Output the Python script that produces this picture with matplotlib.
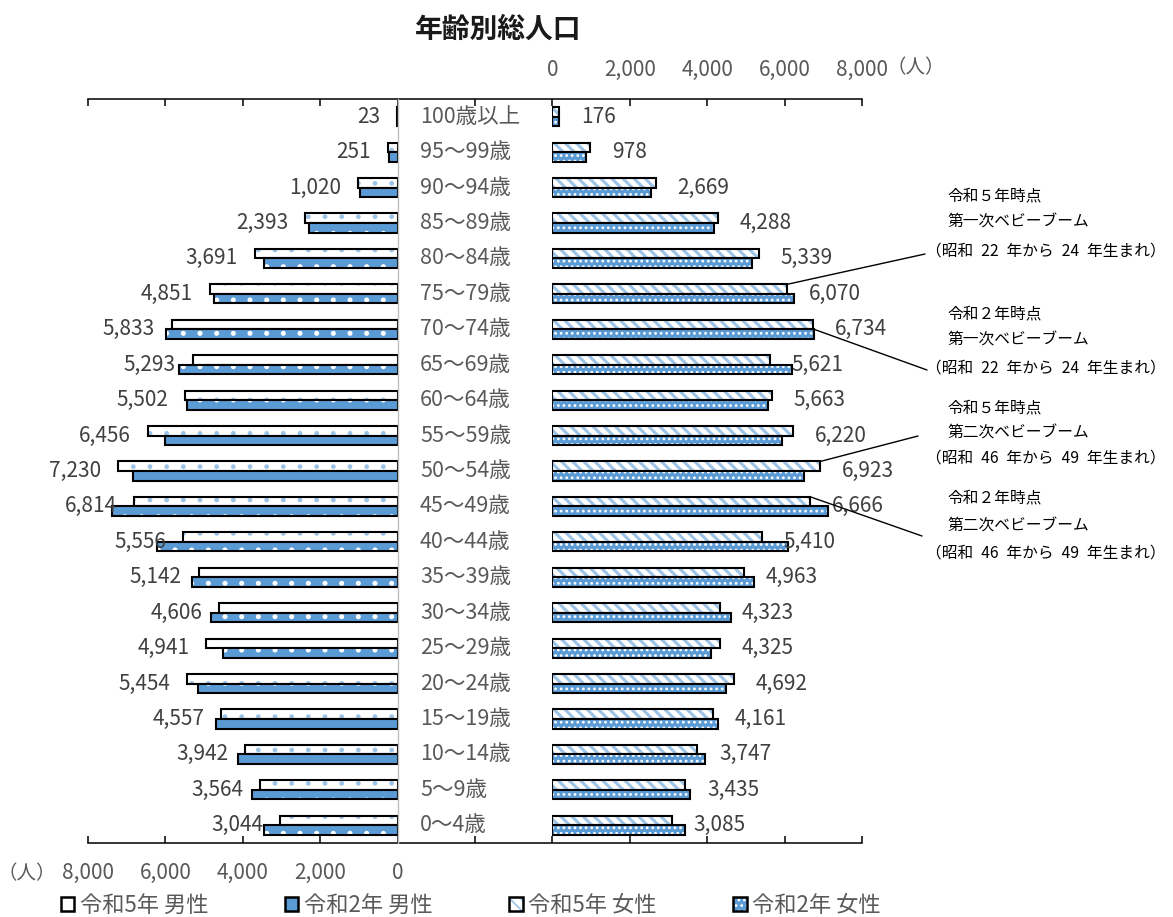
import numpy as np
import matplotlib.pyplot as plt
from matplotlib import transforms
from matplotlib.patches import Patch
from matplotlib.legend_handler import HandlerTuple

plt.rcParams['font.family'] = ['Noto Sans CJK JP', 'DejaVu Sans']
plt.rcParams['hatch.linewidth'] = 1.2

# ---- data -------------------------------------------------------------
ages = ['100歳以上', '95～99歳', '90～94歳', '85～89歳', '80～84歳', '75～79歳',
        '70～74歳', '65～69歳', '60～64歳', '55～59歳', '50～54歳', '45～49歳',
        '40～44歳', '35～39歳', '30～34歳', '25～29歳', '20～24歳', '15～19歳',
        '10～14歳', '5～9歳', '0～4歳']

male_r5 = [23, 251, 1020, 2393, 3691, 4851, 5833, 5293, 5502, 6456, 7230,
           6814, 5556, 5142, 4606, 4941, 5454, 4557, 3942, 3564, 3044]
male_r2 = [20, 210, 960, 2280, 3450, 4750, 5980, 5640, 5430, 6010, 6840,
           7380, 6210, 5300, 4810, 4520, 5170, 4690, 4130, 3760, 3460]
female_r5 = [176, 978, 2669, 4288, 5339, 6070, 6734, 5621, 5663, 6220, 6923,
             6666, 5410, 4963, 4323, 4325, 4692, 4161, 3747, 3435, 3085]
female_r2 = [165, 870, 2550, 4180, 5150, 6230, 6760, 6180, 5560, 5930, 6490,
             7120, 6090, 5210, 4610, 4110, 4480, 4290, 3940, 3550, 3420]

legend_labels = ['令和5年 男性', '令和2年 男性', '令和5年 女性', '令和2年 女性']
axis_ticks = [0, 2000, 4000, 6000, 8000]

BLUE = '#5B9BD5'
LIGHT = '#9DC3E6'
GREY_TXT = '#595959'
VAL_TXT = '#404040'

# ---- layout -----------------------------------------------------------
W, H = 1173, 917
fig = plt.figure(figsize=(W / 100, H / 100), dpi=100)


def box(x0, x1, y0, y1):
    return [x0 / W, 1 - y1 / H, (x1 - x0) / W, (y1 - y0) / H]


X0, X1 = 88, 862
TOP, BOT = 99, 843
k = (X1 - X0) / 20000.0

# outer frame with the long top/bottom rules and their tick marks
frame = fig.add_axes(box(X0, X1, TOP, BOT))
frame.set_xlim(-8000, 12000)
frame.set_ylim(0, 1)
frame.patch.set_visible(False)
for s in ['left', 'right']:
    frame.spines[s].set_visible(False)
for s in ['top', 'bottom']:
    frame.spines[s].set_linewidth(1.1)
frame.set_xticks(np.arange(-8000, 12001, 2000))
frame.tick_params(axis='x', direction='in', length=5, width=1.1,
                  top=True, bottom=True, labelbottom=False, labeltop=False)
frame.set_yticks([])

xl_end = X0 + 8000 * k
xr_start = X0 + 12000 * k
axL = fig.add_axes(box(X0, xl_end, TOP, BOT))
axR = fig.add_axes(box(xr_start, X1, TOP, BOT))

y = np.arange(len(ages))
h = 0.27
off = 0.135

for ax in (axL, axR):
    ax.patch.set_visible(False)
    for s in ax.spines.values():
        s.set_visible(False)
    ax.set_ylim(len(ages) - 0.5, -0.5)
    ax.set_yticks([])

axL.spines['right'].set_visible(True)
axL.spines['right'].set_color('#BFBFBF')
axL.spines['right'].set_linewidth(1.0)

axL.set_xlim(8000, 0)
axR.set_xlim(0, 8000)


def draw(ax, vals, ypos, face, hatch, hcolor, hlw=None):
    fill = ax.barh(ypos, vals, height=h, color=face, hatch=hatch,
                   edgecolor=hcolor, linewidth=0)
    if hlw is not None:
        for p in fill:
            if hasattr(p, 'set_hatch_linewidth'):
                p.set_hatch_linewidth(hlw)
    ax.barh(ypos, vals, height=h, fill=False, edgecolor='black',
            linewidth=1.5)


draw(axL, male_r5, y - off, 'white', '.', LIGHT, hlw=1.0)
draw(axL, male_r2, y + off, BLUE, '.', 'white')
draw(axR, female_r5, y - off, 'white', '\\\\\\', LIGHT, hlw=2.2)
draw(axR, female_r2, y + off, BLUE, '...', 'white')

# value labels (令和5年)
for yi, v in zip(y, male_r5):
    axL.annotate(f'{v:,}', xy=(v, yi), xytext=(-12, 0),
                 textcoords='offset points', ha='right', va='center',
                 fontsize=15, color=VAL_TXT, annotation_clip=False)
for yi, v in zip(y, female_r5):
    axR.annotate(f'{v:,}', xy=(v, yi), xytext=(15.5, 0),
                 textcoords='offset points', ha='left', va='center',
                 fontsize=15, color=VAL_TXT, annotation_clip=False)

# age class labels in the middle column
trans = transforms.blended_transform_factory(fig.transFigure, axL.transData)
for yi, a in zip(y, ages):
    axL.text(420 / W, yi, a, transform=trans, ha='left', va='center',
             fontsize=15.5, color=GREY_TXT)

# axis tick labels
tick_txt = [f'{t:,}' for t in axis_ticks]
axL.set_xticks(axis_ticks)
axL.set_xticklabels(tick_txt)
axL.tick_params(axis='x', length=0, pad=14, labelsize=15,
                labelcolor=GREY_TXT)
axR.xaxis.tick_top()
axR.set_xticks(axis_ticks)
axR.set_xticklabels(tick_txt)
axR.tick_params(axis='x', length=0, pad=13, labelsize=15,
                labelcolor=GREY_TXT)

fig.text(27 / W, 1 - 874 / H, '（人）', ha='center', va='center',
         fontsize=14, color=GREY_TXT)
fig.text(916 / W, 1 - 68 / H, '（人）', ha='center', va='center',
         fontsize=14, color=GREY_TXT)

# title
fig.text(498 / W, 1 - 30 / H, '年齢別総人口', ha='center', va='center',
         fontsize=20, fontweight='bold', color='#1a1a1a')

# baby-boom notes with leader lines
SP = '\u2002'
notes = [
    (('令和５年時点', '第一次ベビーブーム',
      f'（昭和{SP}22{SP}年から{SP}24{SP}年生まれ）'),
     (196, 222, 251), (female_r5[5], 5 - off - h / 2), (925, 254)),
    (('令和２年時点', '第一次ベビーブーム',
      f'（昭和{SP}22{SP}年から{SP}24{SP}年生まれ）'),
     (314, 340, 368), (female_r2[6], 6), (927, 370)),
    (('令和５年時点', '第二次ベビーブーム',
      f'（昭和{SP}46{SP}年から{SP}49{SP}年生まれ）'),
     (408, 433, 458), (female_r5[10], 10 - off - h / 2), (918, 436)),
    (('令和２年時点', '第二次ベビーブーム',
      f'（昭和{SP}46{SP}年から{SP}49{SP}年生まれ）'),
     (498, 526, 553), (female_r5[11], 11 - off - h / 2), (922, 536)),
]
for lines, ys, xy, end in notes:
    for i, (txt, yy) in enumerate(zip(lines, ys)):
        xx = 926 if i == 2 else 948
        fig.text(xx / W, 1 - yy / H, txt, ha='left', va='center',
                 fontsize=11.3, color='black')
    axR.annotate('', xy=xy, xytext=(end[0] / W, 1 - end[1] / H),
                 textcoords='figure fraction', annotation_clip=False,
                 arrowprops=dict(arrowstyle='-', color='black', lw=1.0,
                                 shrinkA=0, shrinkB=0))

# legend
styles = [('white', '', 'white'), (BLUE, '', BLUE),
          ('white', '\\\\\\', LIGHT), (BLUE, '...', 'white')]
handles = [(Patch(facecolor=f, hatch=ht or None, edgecolor=hc, linewidth=0),
            Patch(fill=False, edgecolor='black', linewidth=1.8))
           for f, ht, hc in styles]
fig.legend(handles, legend_labels, handler_map={tuple: HandlerTuple()},
           loc='center left', bbox_to_anchor=(61 / W, 1 - 905 / H),
           ncol=4, frameon=False, fontsize=16, labelcolor=GREY_TXT,
           handlelength=0.6, handleheight=0.6, handletextpad=0.25,
           columnspacing=3.45, borderpad=0, borderaxespad=0)

fig.savefig('out.png', dpi=100)
